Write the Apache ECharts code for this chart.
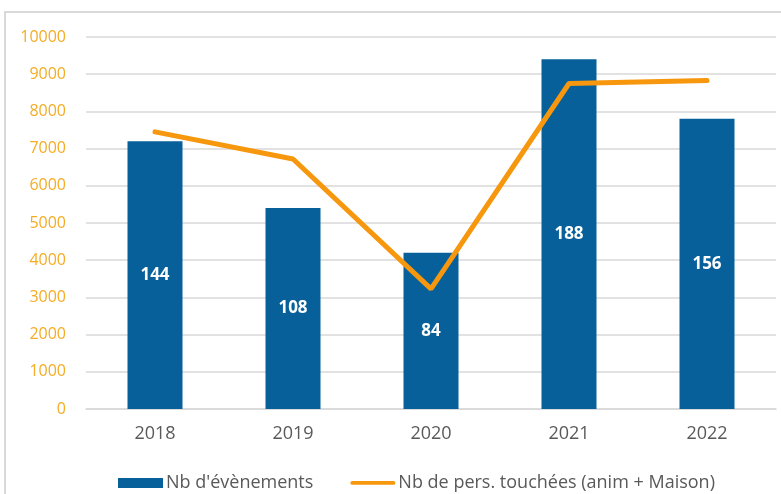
<!DOCTYPE html>
<html><head><meta charset="utf-8">
<script src="https://cdn.jsdelivr.net/npm/echarts@6/dist/echarts.min.js"></script>
<style>
html,body{margin:0;padding:0;background:#fff;}
#frame{position:absolute;left:4px;top:11px;width:777px;height:483px;border-top:2px solid #d9d9d9;border-left:2px solid #d9d9d9;box-sizing:border-box;}
#c{position:absolute;left:0;top:0;width:781px;height:494px;}
</style></head>
<body><div id="frame"></div><div id="c"></div>
<script>
const categories = ['2018','2019','2020','2021','2022'];
const eventCounts = [144,108,84,188,156];
const peopleReached = [7450,6720,3230,8750,8830];
const yTicks = [0,1000,2000,3000,4000,5000,6000,7000,8000,9000,10000];

const lineIcon = 'path://M0,0 L48,0 L48,0.01 Z M2,3 L46,3 A2,2 0 0 1 46,7 L2,7 A2,2 0 0 1 2,3 Z M0,10 L48,10 L48,10.01 Z';

const chart = echarts.init(document.getElementById('c'));
chart.setOption({
  animation:false,
  backgroundColor:'transparent',
  grid:{left:86,right:5,top:37,bottom:85},
  legend:{
    top:469, left:113, itemGap:37, itemWidth:45, itemHeight:10,
    textStyle:{fontFamily:'Open Sans',fontSize:18,color:'#595959',padding:[0,0,0,-2]},
    data:[{name:"Nb d'évènements",icon:'rect'},{name:'Nb de pers. touchées (anim + Maison)',icon:lineIcon,itemStyle:{color:'#F7970D'}}]
  },
  xAxis:{
    type:'category', data:categories,
    axisLine:{lineStyle:{color:'#d9d9d9',width:1.5}},
    axisTick:{show:false},
    axisLabel:{fontFamily:'Open Sans',fontSize:18,color:'#595959',margin:16}
  },
  yAxis:[{
    type:'value', min:yTicks[0], max:yTicks[yTicks.length-1], interval:1000,
    axisLine:{show:false}, axisTick:{show:false},
    splitLine:{lineStyle:{color:'#d9d9d9',width:1.5}},
    axisLabel:{fontFamily:'Open Sans',fontSize:16,color:'#F4AC25',margin:20,formatter:function(v){return String(v);}}
  },{
    type:'value', min:0, max:200, show:false, splitLine:{show:false}
  }],
  series:[{
    name:"Nb d'évènements", type:'bar', yAxisIndex:1, data:eventCounts,
    barWidth:55,
    itemStyle:{color:'#07609A'},
    label:{show:true,position:'inside',color:'#fff',fontFamily:'Open Sans',fontWeight:'bold',fontSize:17}
  },{
    name:'Nb de pers. touchées (anim + Maison)', type:'line', yAxisIndex:0, data:peopleReached,
    symbol:'none', lineStyle:{color:'#F7970D',width:5,cap:'round'}, itemStyle:{color:'#F7970D'}
  }]
});
</script></body></html>
